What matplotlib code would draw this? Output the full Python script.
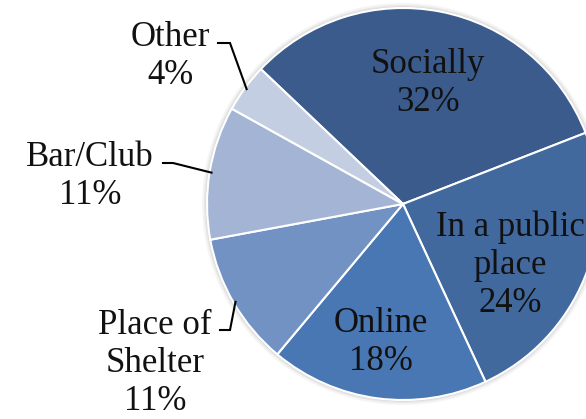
import matplotlib.pyplot as plt
import numpy as np
from matplotlib.patches import Circle

# Data
labels = ['Socially', 'In a public\nplace', 'Online', 'Place of\nShelter', 'Bar/Club', 'Other']
values = [32, 24, 18, 11, 11, 4]
colors = ['#3A5B8C', '#41699E', '#4877B3', '#7192C3', '#A3B4D5', '#C4CEE3']

W, H = 586, 419
cx, cy, R = 403, 204, 196  # pie centre and radius in pixels

# pixel -> data coords (pie radius = 1)
def px(x, y):
    return (x - cx) / R, (cy - y) / R

plt.rcParams['font.family'] = ['Liberation Serif', 'DejaVu Serif']
fig = plt.figure(figsize=(W / 100, H / 100), dpi=100)
ax = fig.add_axes([0, 0, 1, 1])

# soft halo behind the pie
for r, a in [(1.025, 0.10), (1.015, 0.15), (1.007, 0.25)]:
    ax.add_patch(Circle((0, 0), r, color='#9a9a9a', alpha=a, lw=0, zorder=0))

wedges, _ = ax.pie(values, colors=colors, startangle=136.5, counterclock=False,
                   radius=1, wedgeprops=dict(edgecolor='white', linewidth=1.5))

fs = 25
ls = 1.2

# inside labels
inside = {0: (428, 83), 1: (510, 265), 2: (381, 342)}
for i, (x, y) in inside.items():
    ax.text(*px(x, y), f'{labels[i]}\n{values[i]}%', ha='center', va='center',
            fontsize=fs, color='#111111', linespacing=ls)

# outside labels with leader lines: text pos, elbow start, elbow corner
outside = {
    5: ((170, 56), (218, 43), (230, 43)),
    4: ((90, 176), (163, 163), (173, 163)),
    3: ((155, 363), (220, 330), (230, 330)),
}
for i, (tp, p0, p1) in outside.items():
    w = wedges[i]
    mid = np.deg2rad((w.theta1 + w.theta2) / 2)
    end = (0.99 * np.cos(mid), 0.99 * np.sin(mid))
    ax.text(*px(*tp), f'{labels[i]}\n{values[i]}%', ha='center', va='center',
            fontsize=fs, color='#111111', linespacing=ls)
    xs = [px(*p0)[0], px(*p1)[0], end[0]]
    ys = [px(*p0)[1], px(*p1)[1], end[1]]
    ax.plot(xs, ys, color='black', lw=1.5, solid_joinstyle='miter')

ax.set_xlim(px(0, 0)[0], px(W, 0)[0])
ax.set_ylim(px(0, H)[1], px(0, 0)[1])
ax.set_aspect('equal')
ax.axis('off')
fig.savefig('out.png', dpi=100)
